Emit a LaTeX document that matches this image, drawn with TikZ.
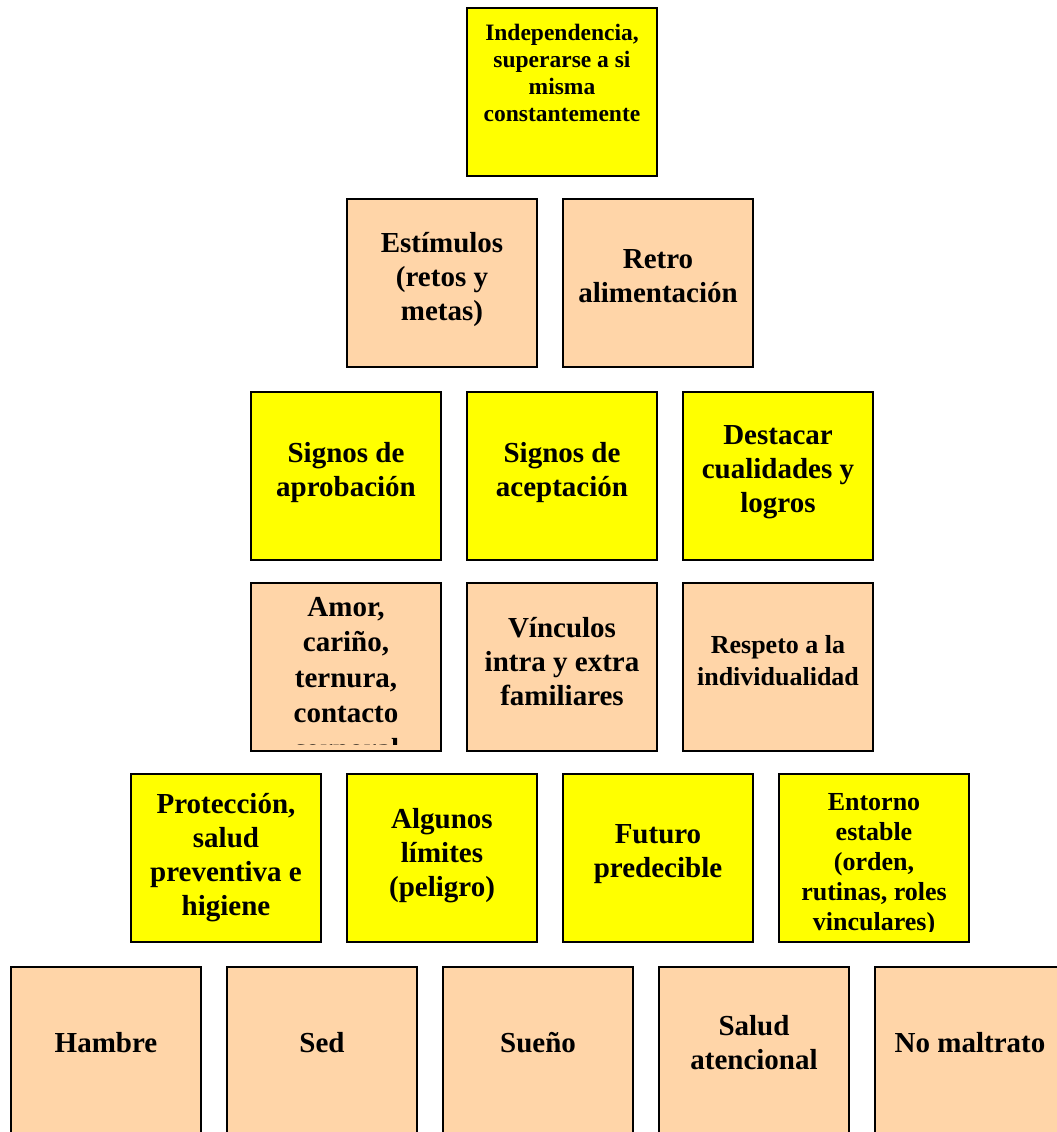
\documentclass[tikz,border=0pt]{standalone}
\usepackage{fontspec}
\setmainfont{Liberation Serif}
\usepackage{tikz}
\usetikzlibrary{positioning}

\definecolor{amarillo}{HTML}{FFFF00}
\definecolor{durazno}{HTML}{FFD5A8}

\tikzset{
  caja/.style={draw=black, line width=1.6pt, minimum width=190pt, minimum height=168pt, inner sep=0pt, outer sep=0pt},
  amarilla/.style={caja, fill=amarillo},
  durazno/.style={caja, fill=durazno},
  texto/.style={align=center, inner sep=0pt, font=\bfseries\fontsize{29}{34}\selectfont},
  textochico/.style={texto, font=\bfseries\fontsize{26}{30}\selectfont},
}

\begin{document}
\begin{tikzpicture}[x=1pt,y=-1pt,node distance=26pt]
\clip (0,0) rectangle (1057,1132);

% cima
\node(indep) [amarilla] at (562,92) {};
\node(indep-t) [texto, font=\bfseries\fontsize{23.5}{27}\selectfont] at ([yshift=19pt]indep.center) {Independencia,\\superarse a si\\misma\\constantemente};

% estima
\node(estim) [durazno] at (442,283) {};
\node(retro) [durazno, right=of estim] {};
\node(estim-t) [texto] at ([yshift=3.5pt]estim.center) {Estímulos\\(retos y\\metas)};
\node(retro-t) [texto] at ([yshift=6.5pt]retro.center) {Retro\\alimentación};

\node(aprob)    [amarilla] at (346,476) {};
\node(acept)    [amarilla, right=of aprob] {};
\node(destacar) [amarilla, right=of acept] {};
\node(aprob-t)    [texto] at ([yshift=3pt]aprob.center) {Signos de\\aprobación};
\node(acept-t)    [texto] at ([yshift=3pt]acept.center) {Signos de\\aceptación};
\node(destacar-t) [texto] at ([yshift=4pt]destacar.center) {Destacar\\cualidades y\\logros};

% afecto
\node(amor)     [durazno] at (346,667) {};
\node(vinculos) [durazno, right=of amor] {};
\node(respeto)  [durazno, right=of vinculos] {};
\begin{scope}
\clip ([yshift=7pt]amor.south west) rectangle (amor.north east);
\node(amor-t) [texto, font=\bfseries\fontsize{29}{35.5}\selectfont] at ([yshift=-14pt]amor.center) {Amor,\\cariño,\\ternura,\\contacto\\corporal};
\end{scope}
\node(vinculos-t) [texto] at ([yshift=5pt]vinculos.center) {Vínculos\\intra y extra\\familiares};
\node(respeto-t)  [textochico, font=\bfseries\fontsize{26}{32}\selectfont] at ([yshift=6pt]respeto.center) {Respeto a la\\individualidad};

% seguridad
\node(proteccion) [amarilla] at (226,858) {};
\node(limites)    [amarilla, right=of proteccion] {};
\node(futuro)     [amarilla, right=of limites] {};
\node(entorno)    [amarilla, right=of futuro] {};
\node(proteccion-t) [texto] at ([yshift=0pt]proteccion.center) {Protección,\\salud\\preventiva e\\higiene};
\node(limites-t)    [texto] at ([yshift=2pt]limites.center) {Algunos\\límites\\(peligro)};
\node(futuro-t)     [texto] at ([yshift=4pt]futuro.center) {Futuro\\predecible};
\begin{scope}
\clip ([yshift=11pt]entorno.south west) rectangle (entorno.north east);
\node(entorno-t) [textochico] at ([yshift=-6.5pt]entorno.center) {Entorno\\estable\\(orden,\\rutinas, roles\\vinculares)};
\end{scope}

% base fisiologica
\node(hambre)   [durazno] at (106,1051) {};
\node(sed)      [durazno, right=of hambre] {};
\node(sueno)    [durazno, right=of sed] {};
\node(salud)    [durazno, right=of sueno] {};
\node(maltrato) [durazno, right=of salud] {};
\node(hambre-t)   [texto] at ([yshift=8pt]hambre.center) {Hambre};
\node(sed-t)      [texto] at ([yshift=8pt]sed.center) {Sed};
\node(sueno-t)    [texto] at ([yshift=8pt]sueno.center) {Sueño};
\node(salud-t)    [texto] at ([yshift=8pt]salud.center) {Salud\\atencional};
\node(maltrato-t) [texto] at ([yshift=8pt]maltrato.center) {No maltrato};
\end{tikzpicture}
\end{document}
